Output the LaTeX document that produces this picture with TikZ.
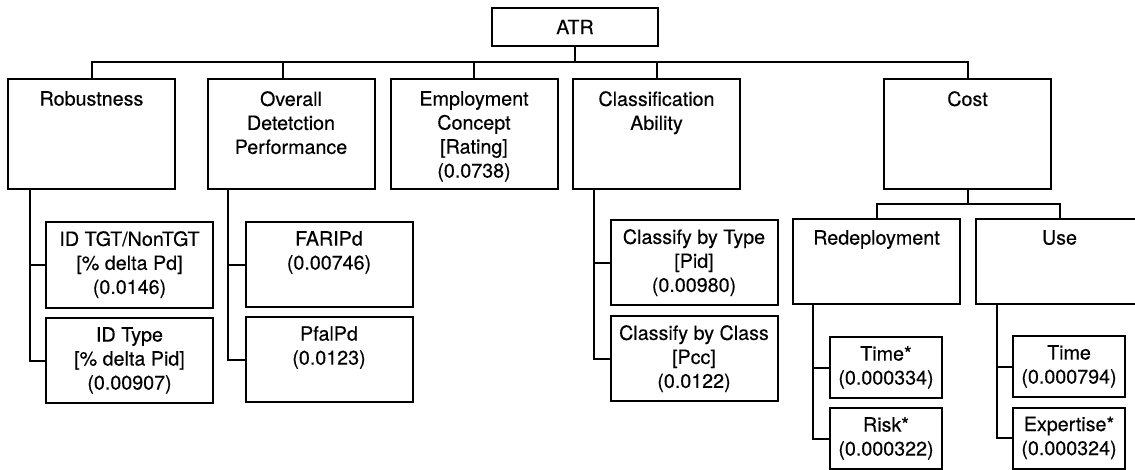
\documentclass[tikz,border=0pt]{standalone}
\usepackage{fontspec}
\setmainfont{TeX Gyre Heros}[FakeBold=0.3]
\begin{document}
\begin{tikzpicture}[x=1pt,y=-1pt,
  box/.style={draw,line width=2pt,inner sep=0pt},
  topbox/.style={box,minimum width=167pt,minimum height=110pt},
  midbox/.style={box,minimum width=167pt,minimum height=85pt},
  lowbox/.style={box,minimum width=112pt,minimum height=61pt},
  lbl/.style={anchor=north,align=center,inner sep=0pt,font=\fontsize{19.7}{24}\selectfont},
  conn/.style={line width=2pt}]
\useasboundingbox (0,0) rectangle (1135,469);
\clip (0,0) rectangle (1135,469);

% root
\node[box,minimum width=166pt,minimum height=38pt] (atr) at (575,27) {};
\node[lbl,anchor=center] (atrt) at (atr.center) {ATR};

% level 1
\node[topbox] (rob)  at (91.5,134) {};
\node[topbox] (ovr)  at (291,134) {};
\node[topbox] (emp)  at (474,134) {};
\node[topbox] (cls)  at (656.5,134) {};
\node[topbox] (cost) at (967.5,134) {};
\node[lbl] (robt)  at ([yshift=-13pt]rob.north)  {Robustness};
\node[lbl] (ovrt)  at ([yshift=-13pt]ovr.north)  {Overall\\Detetction\\Performance};
\node[lbl] (empt)  at ([yshift=-13pt]emp.north)  {Employment\\Concept\\{[Rating]}\\(0.0738)};
\node[lbl] (clst)  at ([yshift=-13pt]cls.north)  {Classification\\Ability};
\node[lbl] (costt) at ([yshift=-13pt]cost.north) {Cost};

% level 2
\node[midbox,minimum height=86pt] (idtgt) at (129.5,265) {};
\node[midbox] (idtype) at (129.5,360.5) {};
\node[midbox] (far) at (329,264.5) {};
\node[midbox] (pfa) at (329,359.5) {};
\node[midbox] (cbt) at (694,262.5) {};
\node[midbox] (cbc) at (694,358.5) {};
\node[midbox] (red) at (876.5,261.5) {};
\node[midbox] (use) at (1059.5,261.5) {};
\node[lbl] (idtgtt)  at ([yshift=-10pt]idtgt.north)  {ID TGT/NonTGT\\{[\% delta Pd]}\\(0.0146)};
\node[lbl] (idtypet) at ([yshift=-10pt]idtype.north) {ID Type\\{[\% delta Pid]}\\(0.00907)};
\node[lbl] (fart)    at ([yshift=-10pt]far.north)    {FARIPd\\(0.00746)};
\node[lbl] (pfat)    at ([yshift=-10pt]pfa.north)    {PfalPd\\(0.0123)};
\node[lbl] (cbtt)    at ([yshift=-10pt]cbt.north)    {Classify by Type\\{[Pid]}\\(0.00980)};
\node[lbl] (cbct)    at ([yshift=-10pt]cbc.north)    {Classify by Class\\{[Pcc]}\\(0.0122)};
\node[lbl] (redt)    at ([yshift=-12pt]red.north)    {Redeployment};
\node[lbl] (uset)    at ([yshift=-12pt]use.north)    {Use};

% level 3
\node[lowbox] (rtime) at (886,367.5) {};
\node[lowbox] (rrisk) at (886,438.5) {};
\node[lowbox] (utime) at (1069,366.5) {};
\node[lowbox] (uexp)  at (1069,438) {};
\node[lbl] (rtimet) at ([yshift=-10pt]rtime.north) {Time*\\(0.000334)};
\node[lbl] (rriskt) at ([yshift=-10pt]rrisk.north) {Risk*\\(0.000322)};
\node[lbl] (utimet) at ([yshift=-10pt]utime.north) {Time\\(0.000794)};
\node[lbl] (uexpt)  at ([yshift=-10pt]uexp.north)  {Expertise*\\(0.000324)};

% top bus
\coordinate (bus) at (0,62);
\coordinate (ovrtop) at ([xshift=-8pt]ovr.north);
\draw[conn] (atr.south) -- (atr.south |- bus);
\draw[conn] (rob.north) -- (rob.north |- bus) -- (cost.north |- bus) -- (cost.north);
\draw[conn] (ovrtop) -- (ovrtop |- bus);
\draw[conn] (emp.north) -- (emp.north |- bus);
\draw[conn] (cls.north) -- (cls.north |- bus);

% cost bus
\coordinate (cbus) at (0,204);
\draw[conn] (cost.south) -- (cost.south |- cbus);
\draw[conn] (red.north) -- (red.north |- cbus) -- (use.north |- cbus) -- (use.north);

% side trees
\coordinate (robd) at ([xshift=23pt]rob.south west);
\draw[conn] (robd) |- (idtype.west);
\draw[conn] (robd |- idtgt.west) -- (idtgt.west);

\coordinate (ovrd) at ([xshift=21pt]ovr.south west);
\draw[conn] (ovrd) |- (pfa.west);
\draw[conn] (ovrd |- far.west) -- (far.west);

\coordinate (clsd) at ([xshift=22pt]cls.south west);
\draw[conn] (clsd) |- (cbc.west);
\draw[conn] (clsd |- cbt.west) -- (cbt.west);

\coordinate (redd) at ([xshift=21pt]red.south west);
\draw[conn] (redd) |- (rrisk.west);
\draw[conn] (redd |- rtime.west) -- (rtime.west);

\coordinate (used) at ([xshift=22pt]use.south west);
\draw[conn] (used) |- (uexp.west);
\draw[conn] (used |- utime.west) -- (utime.west);
\end{tikzpicture}
\end{document}
